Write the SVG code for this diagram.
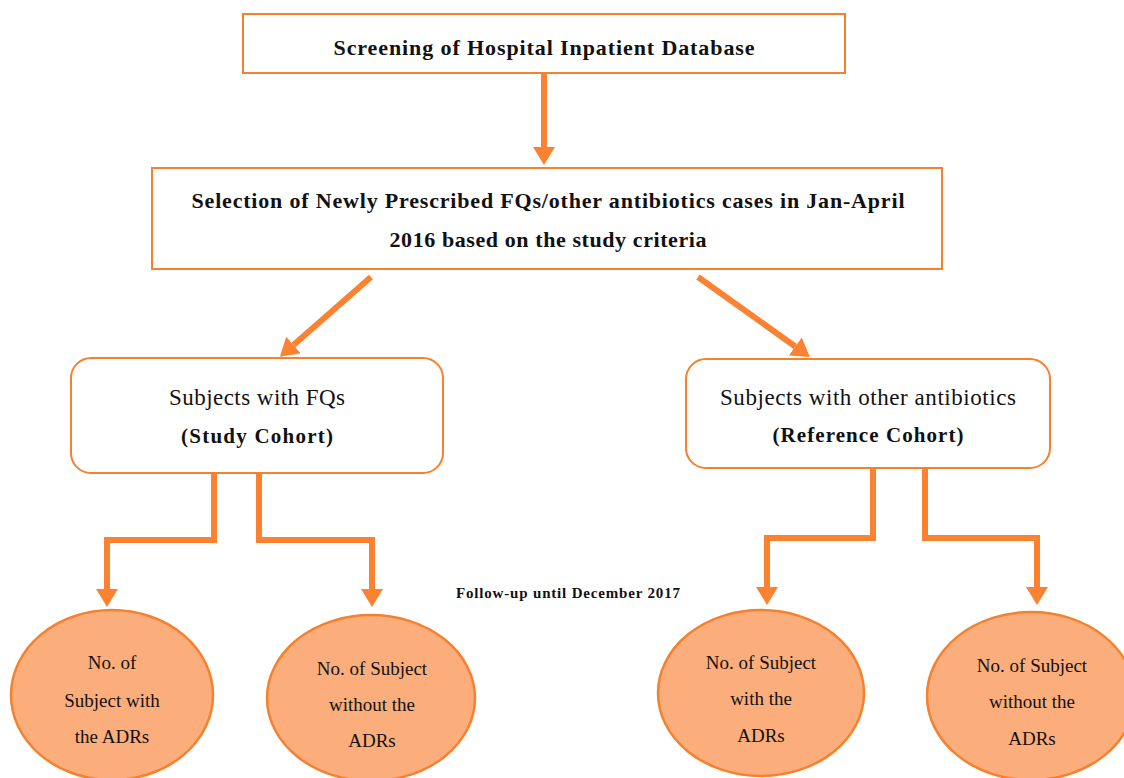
<svg xmlns="http://www.w3.org/2000/svg" width="1124" height="778" viewBox="0 0 1124 778">
<style>
.box{fill:#fff;stroke:#F5812E;stroke-width:2}
.ell{fill:#FBAE7C;stroke:#F5812E;stroke-width:2.5}
.con{fill:none;stroke:#FB8230;stroke-width:6;stroke-linejoin:miter}
.t{font-family:"Liberation Serif","Times New Roman",serif;fill:#111;text-anchor:middle}
.b{font-weight:bold}
</style>
<defs>
<marker id="ah" markerUnits="userSpaceOnUse" viewBox="0 0 18 22" markerWidth="18" markerHeight="22" refX="0" refY="11" orient="auto">
<path d="M0,0 L18,11 L0,22 z" fill="#FB8230"/>
</marker>
</defs>
<g id="connectors">
<line class="con" x1="544" y1="68" x2="544" y2="147" marker-end="url(#ah)"/>
<line class="con" x1="371" y1="277" x2="293.5" y2="345" stroke-width="5" marker-end="url(#ah)"/>
<line class="con" x1="698" y1="277" x2="795.3" y2="346.5" stroke-width="5" marker-end="url(#ah)"/>
<path class="con" d="M214,473 V540 H107 V589" marker-end="url(#ah)"/>
<path class="con" d="M259,473 V540 H372 V589" marker-end="url(#ah)"/>
<path class="con" d="M873,468 V538 H767 V587" marker-end="url(#ah)"/>
<path class="con" d="M925,468 V538 H1037 V587" marker-end="url(#ah)"/>
</g>
<g id="screening">
<rect class="box" x="243" y="14" width="602" height="59"/>
<text class="t b" x="544" y="55" font-size="22" textLength="421">Screening of Hospital Inpatient Database</text>
</g>
<g id="selection">
<rect class="box" x="152" y="168" width="790" height="101"/>
<text class="t b" x="548" y="208" font-size="22" textLength="713">Selection of Newly Prescribed FQs/other antibiotics cases in Jan-April</text>
<text class="t b" x="548" y="247" font-size="22" textLength="317">2016 based on the study criteria</text>
</g>
<g id="study-cohort">
<rect class="box" x="71" y="358" width="372" height="115" rx="20"/>
<text class="t" x="257" y="405" font-size="23" textLength="176">Subjects with FQs</text>
<text class="t b" x="257" y="443" font-size="21" textLength="152">(Study Cohort)</text>
</g>
<g id="reference-cohort">
<rect class="box" x="686" y="359" width="364" height="109" rx="20"/>
<text class="t" x="868" y="405" font-size="23" textLength="296">Subjects with other antibiotics</text>
<text class="t b" x="868" y="442" font-size="21" textLength="191">(Reference Cohort)</text>
</g>
<g id="follow-up">
<text class="t b" x="568" y="598" font-size="15" textLength="224">Follow-up until December 2017</text>
</g>
<g id="fq-with-adr">
<ellipse class="ell" cx="112" cy="695" rx="101" ry="85"/>
<text class="t" x="112" y="669" font-size="19">No. of</text>
<text class="t" x="112" y="707" font-size="19">Subject with</text>
<text class="t" x="112" y="743" font-size="19">the ADRs</text>
</g>
<g id="fq-without-adr">
<ellipse class="ell" cx="371" cy="698" rx="104" ry="83"/>
<text class="t" x="372" y="675" font-size="19">No. of Subject</text>
<text class="t" x="372" y="711" font-size="19">without the</text>
<text class="t" x="372" y="747" font-size="19">ADRs</text>
</g>
<g id="ref-with-adr">
<ellipse class="ell" cx="761" cy="693" rx="103" ry="83"/>
<text class="t" x="761" y="669" font-size="19">No. of Subject</text>
<text class="t" x="761" y="705" font-size="19">with the</text>
<text class="t" x="761" y="742" font-size="19">ADRs</text>
</g>
<g id="ref-without-adr">
<ellipse class="ell" cx="1031" cy="696" rx="104" ry="84"/>
<text class="t" x="1032" y="672" font-size="19">No. of Subject</text>
<text class="t" x="1032" y="708" font-size="19">without the</text>
<text class="t" x="1032" y="745" font-size="19">ADRs</text>
</g>
</svg>
